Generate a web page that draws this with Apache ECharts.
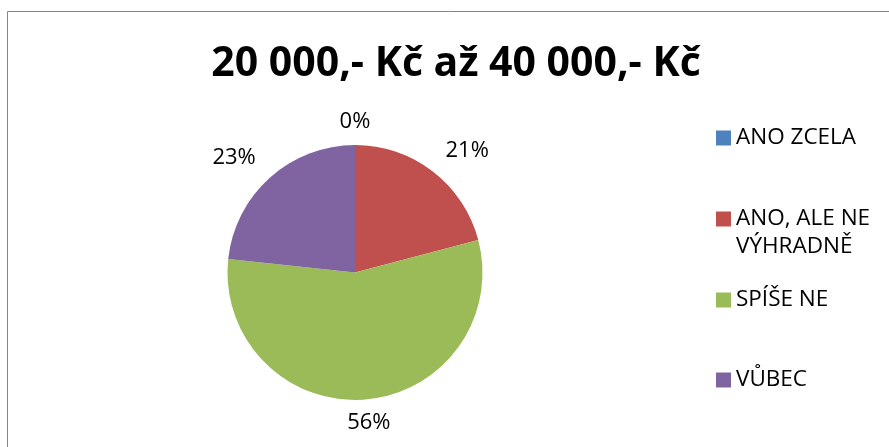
<!DOCTYPE html>
<html>
<head>
<meta charset="utf-8">
<script src="https://cdn.jsdelivr.net/npm/echarts@6/dist/echarts.min.js"></script>
<style>
  html, body { margin: 0; padding: 0; background: #fff; }
  #pie { width: 889px; height: 447px; }
</style>
</head>
<body>
<div id="pie"></div>
<script>
// podíly odpovědí (v %)
var categories = ['ANO ZCELA', 'ANO, ALE NE VÝHRADNĚ', 'SPÍŠE NE', 'VŮBEC']
var values = [0, 20.9, 55.8, 23.3]
var legendLabels = ['ANO ZCELA', '\nANO, ALE NE\nVÝHRADNĚ', 'SPÍŠE NE', 'VŮBEC']
var colorList = ['#4F81BD', '#C0504D', '#9BBB59', '#8064A2']
var titleText = '20 000,- Kč až 40 000,- Kč'

var font = '"Open Sans", "Noto Sans", sans-serif'
var legendTops = [124, 177, 286, 366]

var myChart = echarts.init(document.getElementById('pie'))

// each legend entry on its own, so the two-line one keeps its icon on the first line
var legends = categories.map(function (name, i) {
  return {
    orient: 'vertical',
    left: 716,
    top: legendTops[i],
    itemWidth: 15,
    itemHeight: 15,
    itemGap: 0,
    padding: 0,
    selectedMode: false,
    icon: 'rect',
    data: [name],
    formatter: function (n) { return legendLabels[categories.indexOf(n)] },
    textStyle: { color: '#000', fontSize: 22.5, fontFamily: font, lineHeight: 28 }
  }
})

var option = {
  color: colorList,
  animation: false,
  title: {
    text: titleText,
    left: 451,
    top: 39,
    textAlign: 'center',
    textStyle: { color: '#000', fontSize: 41, fontWeight: 'bold', fontFamily: font }
  },
  legend: legends,
  graphic: [
    {
      type: 'rect',
      shape: { x: 7.5, y: 11.5, width: 1000, height: 1000 },
      style: { fill: 'none', stroke: '#868686', lineWidth: 1 },
      silent: true
    }
  ],
  series: [
    {
      type: 'pie',
      center: [355, 272.5],
      radius: 127.5,
      startAngle: 90,
      clockwise: true,
      avoidLabelOverlap: false,
      silent: true,
      itemStyle: { borderWidth: 0 },
      label: {
        show: true,
        position: 'outside',
        color: '#000',
        fontSize: 22,
        fontFamily: font,
        formatter: function (p) { return Math.round(p.percent) + '%' }
      },
      labelLine: { show: true, length: 12, length2: 0, lineStyle: { opacity: 0 } },
      // Excel-like "outside end": push the label box away from the slice along its mid angle
      labelLayout: function (p) {
        var pts = p.labelLinePoints
        if (!pts) return {}
        var dx = pts[1][0] - pts[0][0], dy = pts[1][1] - pts[0][1]
        var len = Math.sqrt(dx * dx + dy * dy) || 1
        var kx = Math.max(-1, Math.min(1, dx / len * 1.6))
        var ky = Math.max(-1, Math.min(1, dy / len * 1.6))
        return {
          x: pts[1][0] + kx * (p.labelRect.width / 2 + 6),
          y: pts[1][1] + ky * p.labelRect.height / 2,
          align: 'center',
          verticalAlign: 'middle'
        }
      },
      data: categories.map(function (name, i) {
        return { name: name, value: values[i] }
      })
    }
  ]
}

myChart.setOption(option)
window.addEventListener('resize', function () {
  myChart.resize()
})
</script>
</body>
</html>
